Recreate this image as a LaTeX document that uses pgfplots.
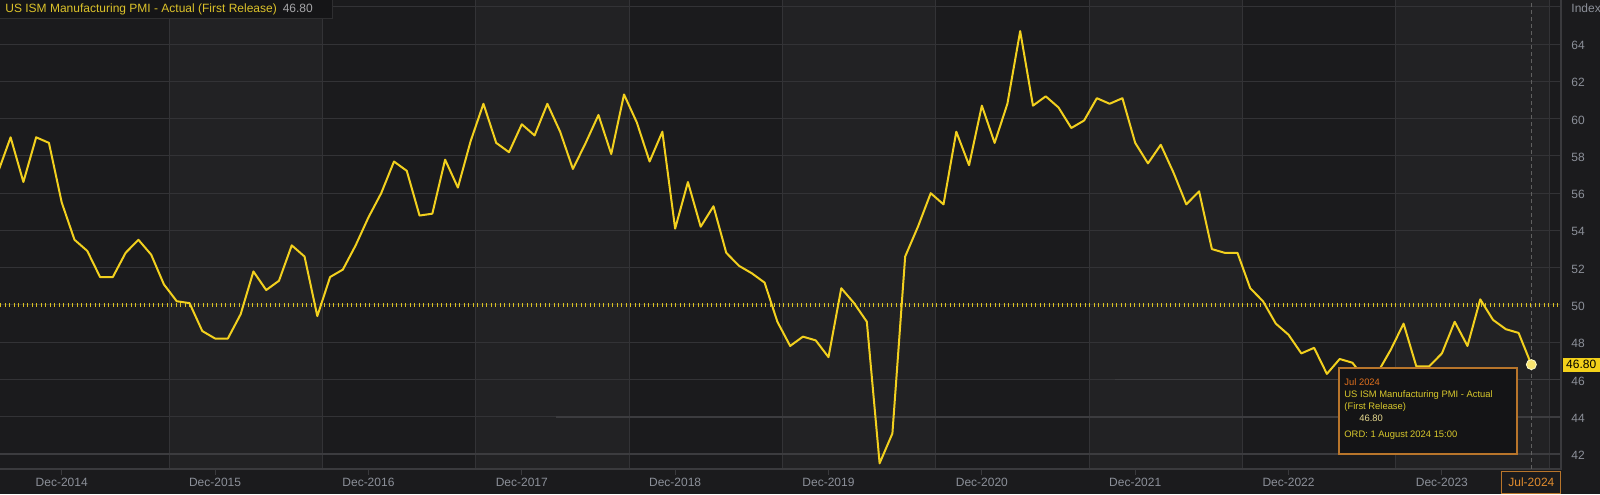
\documentclass[border=0pt]{standalone}
\usepackage{fontspec}
\setmainfont{Liberation Sans}
\usepackage{pgfplots}
\usepackage{pgfplotstable}
\pgfplotsset{compat=1.18}

% colours
\definecolor{bgdark}{HTML}{1B1B1D}
\definecolor{bglight}{HTML}{222224}
\definecolor{gridc}{HTML}{333336}
\definecolor{gridhi}{HTML}{3C3C3F}
\definecolor{axisc}{HTML}{3A3A3D}
\definecolor{tickc}{HTML}{8C9099}
\definecolor{pmiyellow}{HTML}{F2D01E}
\definecolor{refyellow}{HTML}{D9C021}
\definecolor{tipborder}{HTML}{B8752B}
\definecolor{tipbg}{HTML}{141416}
\definecolor{tiporange}{HTML}{E0701E}
\definecolor{tipyellow}{HTML}{D8C82C}
\definecolor{tipvalue}{HTML}{E6D98E}
\definecolor{legbg}{HTML}{151517}
\definecolor{legline}{HTML}{2E2E30}
\definecolor{legyellow}{HTML}{DCC22A}
\definecolor{leggray}{HTML}{A5A5A8}
\definecolor{markfill}{HTML}{F8E470}
\definecolor{labelfill}{HTML}{F3D11A}
\definecolor{julorange}{HTML}{E08C2E}

% month index: 0 = Dec-2014, 115 = Jul-2024
\pgfplotstableread{
m pmi
-5 57.1
-4 59.0
-3 56.6
-2 59.0
-1 58.7
0 55.5
1 53.5
2 52.9
3 51.5
4 51.5
5 52.8
6 53.5
7 52.7
8 51.1
9 50.2
10 50.1
11 48.6
12 48.2
13 48.2
14 49.5
15 51.8
16 50.8
17 51.3
18 53.2
19 52.6
20 49.4
21 51.5
22 51.9
23 53.2
24 54.7
25 56.0
26 57.7
27 57.2
28 54.8
29 54.9
30 57.8
31 56.3
32 58.8
33 60.8
34 58.7
35 58.2
36 59.7
37 59.1
38 60.8
39 59.3
40 57.3
41 58.7
42 60.2
43 58.1
44 61.3
45 59.8
46 57.7
47 59.3
48 54.1
49 56.6
50 54.2
51 55.3
52 52.8
53 52.1
54 51.7
55 51.2
56 49.1
57 47.8
58 48.3
59 48.1
60 47.2
61 50.9
62 50.1
63 49.1
64 41.5
65 43.1
66 52.6
67 54.2
68 56.0
69 55.4
70 59.3
71 57.5
72 60.7
73 58.7
74 60.8
75 64.7
76 60.7
77 61.2
78 60.6
79 59.5
80 59.9
81 61.1
82 60.8
83 61.1
84 58.7
85 57.6
86 58.6
87 57.1
88 55.4
89 56.1
90 53.0
91 52.8
92 52.8
93 50.9
94 50.2
95 49.0
96 48.4
97 47.4
98 47.7
99 46.3
100 47.1
101 46.9
102 46.0
103 46.4
104 47.6
105 49.0
106 46.7
107 46.7
108 47.4
109 49.1
110 47.8
111 50.3
112 49.2
113 48.7
114 48.5
115 46.8
}\pmidata

\begin{document}
\begin{tikzpicture}[font=\fontsize{6}{7}\selectfont]

\begin{axis}[
    at={(0pt,12.5pt)}, anchor=south west,
    width=780.5pt, height=234.5pt, scale only axis,
    set layers, clip mode=individual,
    xmin=-4.83, xmax=117.32, ymin=41.195, ymax=66.37,
    axis line style={draw=none},
    xtick={0,12,...,108},
    xticklabels={Dec-2014,Dec-2015,Dec-2016,Dec-2017,Dec-2018,Dec-2019,Dec-2020,Dec-2021,Dec-2022,Dec-2023},
    xtick pos=bottom, tick align=outside,
    major tick length=3pt,
    x tick style={draw=axisc, line width=0.5pt},
    minor xtick={8.4,20.4,32.4,44.4,56.4,68.4,80.4,92.4,104.4,116.4},
    minor tick length=0pt,
    xminorgrids=true, ymajorgrids=true,
    grid style={gridc, line width=0.5pt},
    minor grid style={gridc, line width=0.5pt},
    ytick={42,44,...,66},
    yticklabels={42,44,46,48,50,52,54,56,58,60,62,64,Index},
    ytick pos=right, yticklabel pos=right,
    y tick style={draw=none},
    yticklabel style={anchor=west, inner sep=0pt, xshift=2pt, yshift=-0.7pt, text=tickc},
    xticklabel style={anchor=base, inner sep=0pt, text=tickc, yshift=-5.6pt},
]
\begin{pgfonlayer}{axis background}
  % whole page background, then the alternating year bands
  \fill[bgdark] (rel axis cs:0,-0.0534) rectangle (rel axis cs:1.025,1);
  \fill[bglight] (axis cs:8.4,41.195) rectangle (axis cs:20.4,66.37);
  \fill[bglight] (axis cs:32.4,41.195) rectangle (axis cs:44.4,66.37);
  \fill[bglight] (axis cs:56.4,41.195) rectangle (axis cs:68.4,66.37);
  \fill[bglight] (axis cs:80.4,41.195) rectangle (axis cs:92.4,66.37);
  \fill[bglight] (axis cs:104.4,41.195) rectangle (axis cs:116.4,66.37);
\end{pgfonlayer}

% slightly brighter grid pieces
\draw[gridhi, line width=0.8pt] (axis cs:-4.83,42) -- (axis cs:117.32,42);
\draw[gridhi, line width=0.8pt] (axis cs:38.7,44) -- (axis cs:117.32,44);
\draw[gridhi, line width=0.8pt] (axis cs:82.4,46) -- (axis cs:117.32,46);

% frame: bottom and right only
\draw[axisc, line width=0.6pt] (rel axis cs:0,0) -- (rel axis cs:1,0) -- (rel axis cs:1,1);

% 50 reference line
\draw[refyellow, line width=2pt, dash pattern=on 0.6pt off 1.65pt]
  (axis cs:-4.83,50) -- (axis cs:117.32,50);

% crosshair at latest month
\draw[gray!75!black, line width=0.5pt, dash pattern=on 2pt off 1.5pt]
  (axis cs:115,41.195) -- (axis cs:115,66.37);

\addplot[pmiyellow, line width=1pt, line join=round] table[x=m, y=pmi] {\pmidata};

\addplot[only marks, mark=*, mark size=2.5pt,
  mark options={fill=markfill, draw=white!80!yellow, line width=0.4pt}]
  coordinates {(115,46.8)};

\node[fill=labelfill, text=black, anchor=west, inner sep=0pt,
  minimum height=7pt, minimum width=18.6pt, xshift=0.6pt]
  at (axis cs:117.32,46.8) {46.80};

\node[draw=tipborder, fill=bgdark, text=julorange, line width=0.6pt,
  minimum width=29.5pt, minimum height=11pt, inner sep=0pt,
  anchor=north, yshift=-1pt]
  at (axis cs:115,41.195) {Jul-2024};
\end{axis}

% legend strip
\fill[legbg] (0,237.5pt) rectangle (166pt,247pt);
\draw[legline, line width=0.5pt] (0,237.5pt) -- (166pt,237.5pt) -- (166pt,247pt);
\node[anchor=west, inner sep=0pt] at (2.5pt,242.3pt)
  {\color{legyellow}US ISM Manufacturing PMI - Actual (First Release)\hspace{3pt}\color{leggray}46.80};

% tooltip
\filldraw[fill=tipbg, draw=tipborder, line width=0.6pt] (669.5pt,20pt) rectangle (758.5pt,63pt);
\begin{scope}[font=\fontsize{4.7}{5.5}\selectfont, every node/.style={anchor=west, inner sep=0pt}]
  \node[text=tiporange] at (672pt,56pt) {Jul 2024};
  \node[text=tipyellow] at (672pt,49.5pt) {US ISM Manufacturing PMI - Actual};
  \node[text=tipyellow] at (672pt,43.5pt) {(First Release)};
  \node[text=tipvalue] at (679.5pt,38pt) {46.80};
  \node[text=tipyellow] at (672pt,29.5pt) {ORD: 1 August 2024 15:00};
\end{scope}

\pgfresetboundingbox
\useasboundingbox (0,0) rectangle (800pt,247pt);
\end{tikzpicture}
\end{document}
